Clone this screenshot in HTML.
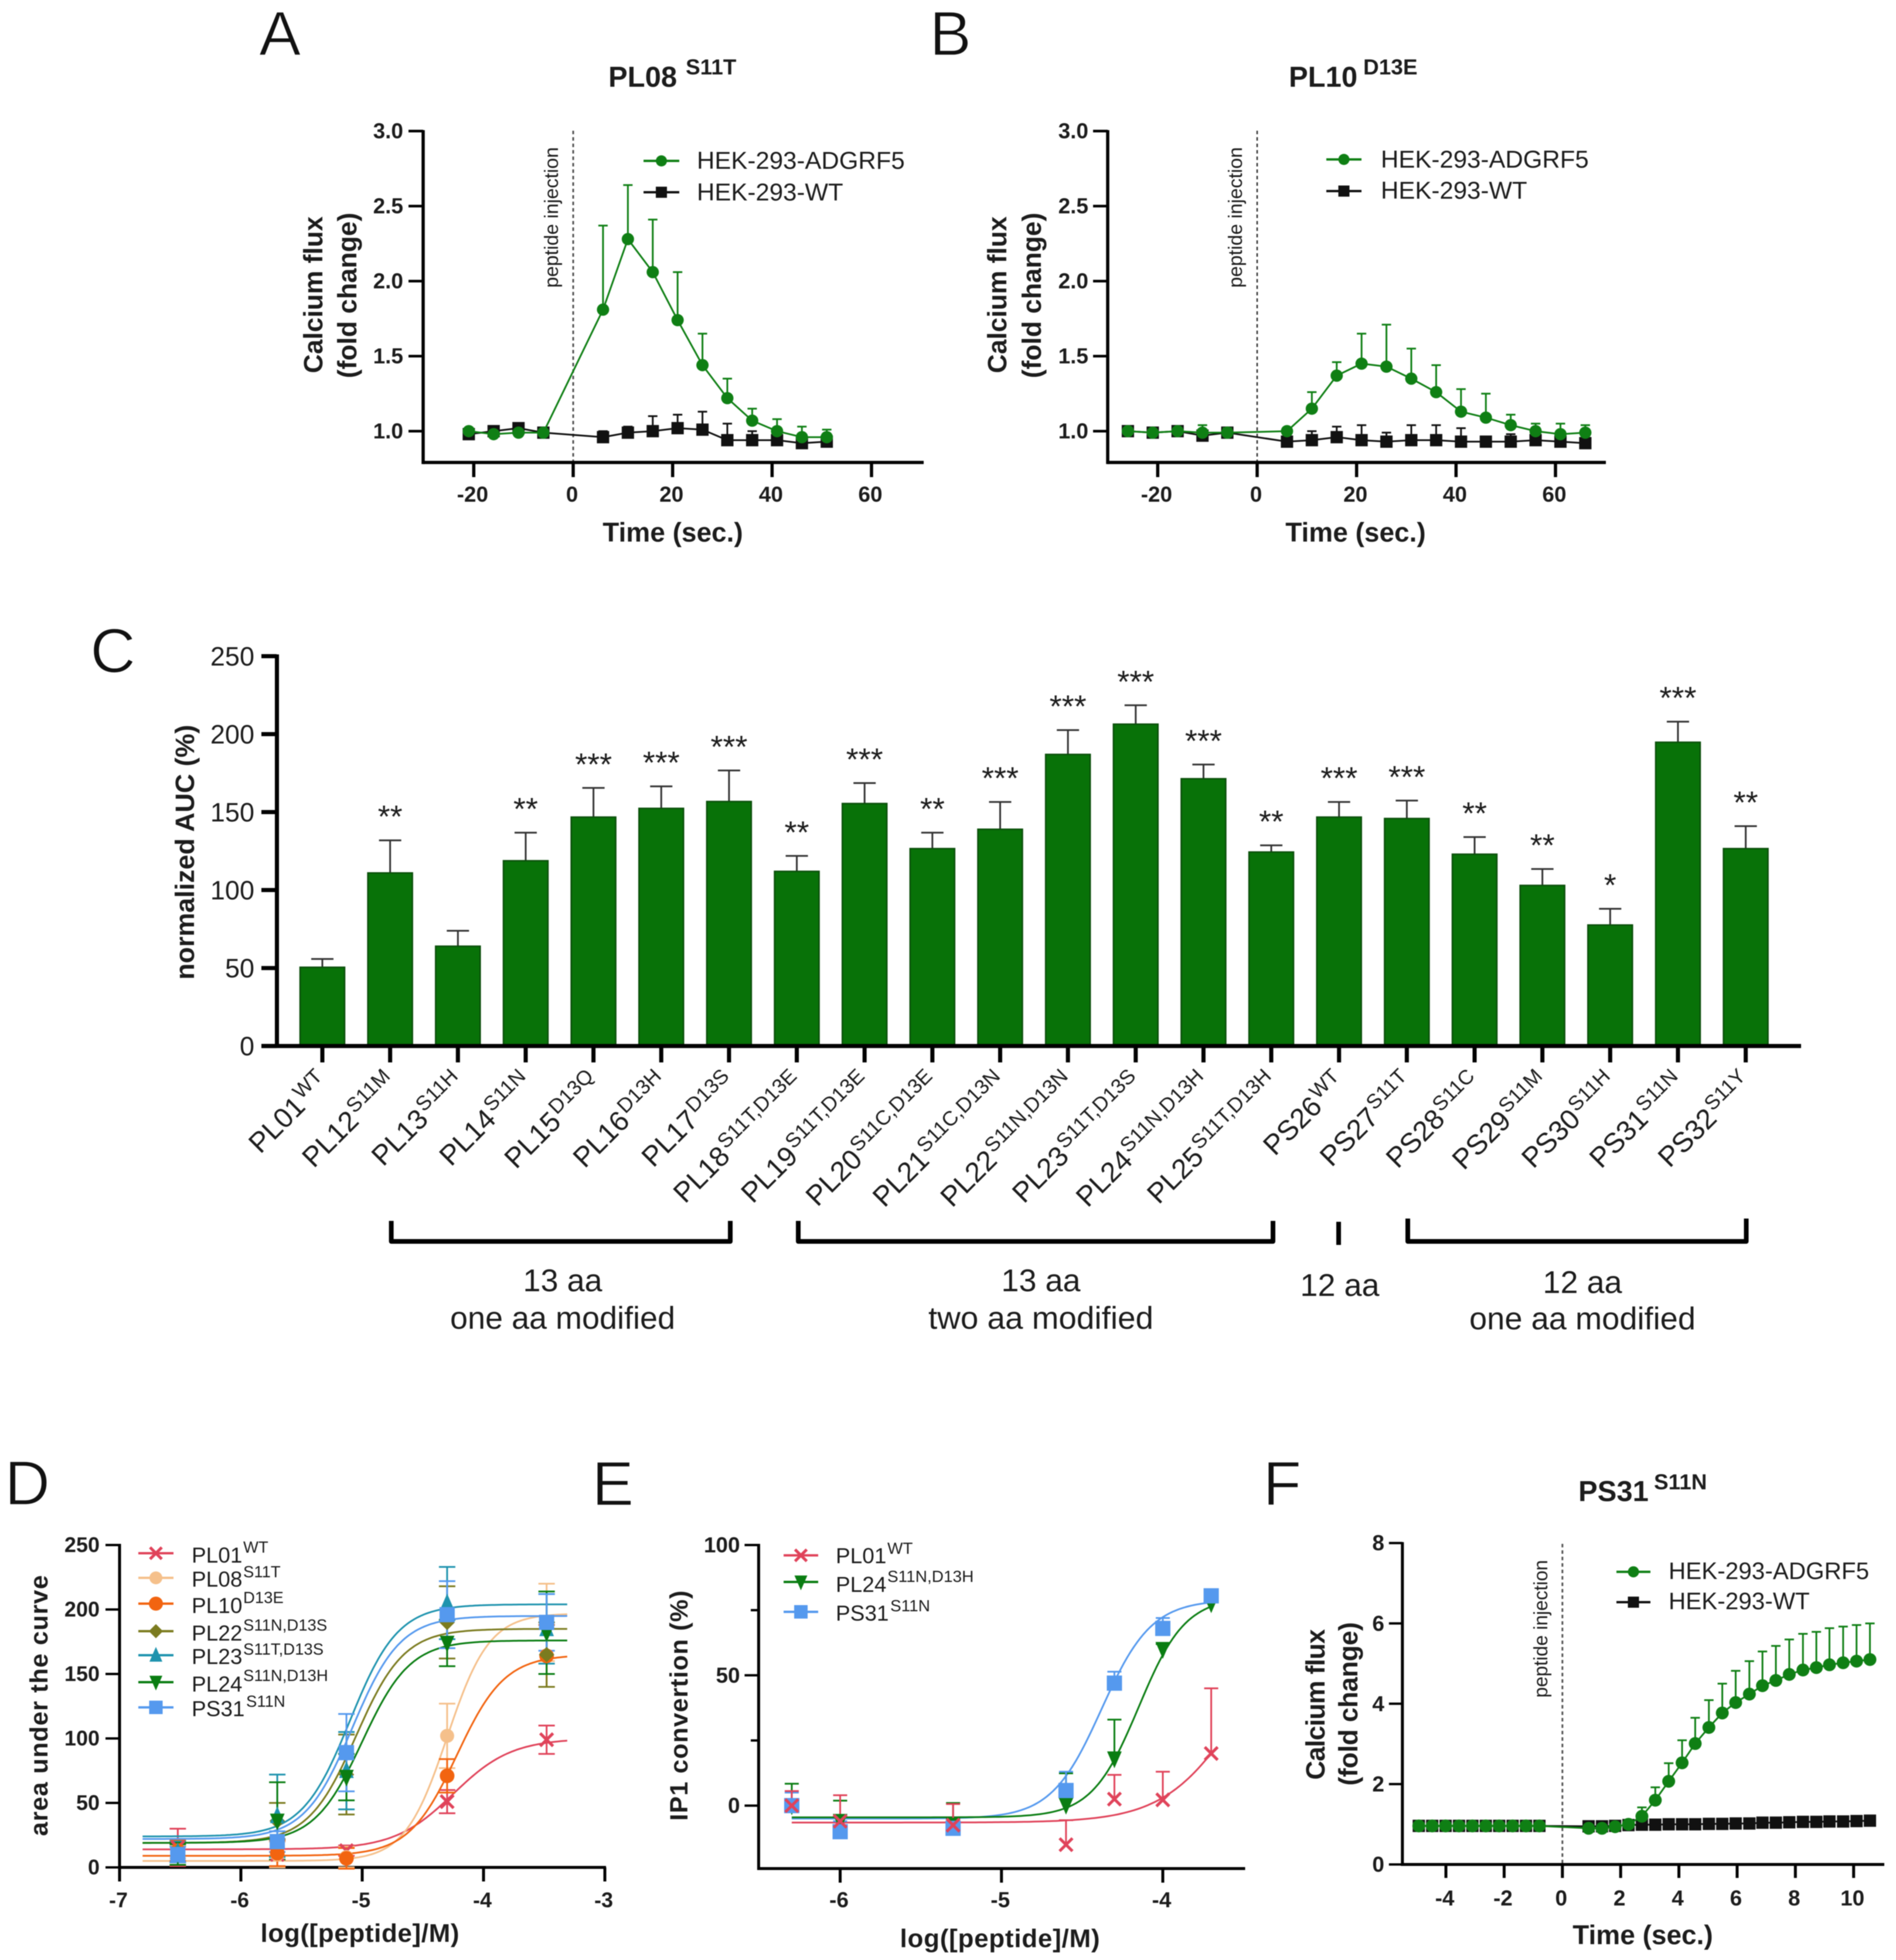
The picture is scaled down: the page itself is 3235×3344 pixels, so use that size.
<!DOCTYPE html>
<html lang="en">
<head>
<meta charset="utf-8">
<title>Calcium flux and AUC panels</title>
<style>
html,body{margin:0;padding:0;background:#fff;width:3235px;height:3344px;overflow:hidden}
svg{display:block;filter:blur(0.8px)}
text{font-family:"Liberation Sans",sans-serif;fill:#1c1c1c}
.b{font-weight:bold}
.letter{font-size:107px;stroke:#fff;stroke-width:1.5px;fill:#111}
.title{font-size:49px;font-weight:bold}
.tsup{font-size:37px;font-weight:bold}
.ytitle{font-size:45px;font-weight:bold;text-anchor:middle}
.xtitle{font-size:46px;font-weight:bold;text-anchor:middle}
.pep{font-size:33px;text-anchor:middle}
.grp{font-size:54px;text-anchor:middle}
</style>
</head>
<body>
<svg id="figure" width="3235" height="3344" viewBox="0 0 3235 3344">
  <rect x="0" y="0" width="3235" height="3344" fill="#fff"></rect>

  <text class="letter" x="442" y="94">A</text>
  <text class="letter" x="1586" y="94">B</text>
  <text class="letter" x="154" y="1147">C</text>
  <text class="letter" x="8" y="2567">D</text>
  <text class="letter" x="1010" y="2568">E</text>
  <text class="letter" x="2155" y="2568">F</text>

  <g id="panelA">
    <text class="title" x="1038" y="148">PL08</text>
    <text class="tsup" x="1170" y="127">S11T</text>
    <text class="ytitle" transform="rotate(-90 550 503)" x="550" y="503">Calcium flux</text>
    <text class="ytitle" transform="rotate(-90 608 504)" x="608" y="504">(fold change)</text>
    <text class="xtitle" x="1148" y="924">Time (sec.)</text>
    <text class="pep" transform="rotate(-90 952 371)" x="952" y="371" textLength="240" lengthAdjust="spacingAndGlyphs">peptide injection</text>
  </g>
  <g id="panelB">
    <text class="title" x="2199" y="148">PL10</text>
    <text class="tsup" x="2326" y="127">D13E</text>
    <text class="ytitle" transform="rotate(-90 1717 503)" x="1717" y="503">Calcium flux</text>
    <text class="ytitle" transform="rotate(-90 1776 504)" x="1776" y="504">(fold change)</text>
    <text class="xtitle" x="2313" y="924">Time (sec.)</text>
    <text class="pep" transform="rotate(-90 2119 371)" x="2119" y="371" textLength="240" lengthAdjust="spacingAndGlyphs">peptide injection</text>
  </g>
  <g id="panelC">
    <text class="ytitle" transform="rotate(-90 331 1454)" x="331" y="1454" textLength="435" lengthAdjust="spacingAndGlyphs">normalized AUC (%)</text>
    <text class="grp" x="960" y="2203">13 aa</text>
    <text class="grp" x="960" y="2267" textLength="384" lengthAdjust="spacingAndGlyphs">one aa modified</text>
    <text class="grp" x="1776" y="2203">13 aa</text>
    <text class="grp" x="1776" y="2267" textLength="384" lengthAdjust="spacingAndGlyphs">two aa modified</text>
    <text class="grp" x="2286" y="2211">12 aa</text>
    <text class="grp" x="2700" y="2206">12 aa</text>
    <text class="grp" x="2700" y="2268" textLength="386" lengthAdjust="spacingAndGlyphs">one aa modified</text>
  </g>
  <g id="panelD">
    <text class="ytitle" transform="rotate(-90 81 2910)" x="81" y="2910" textLength="445" lengthAdjust="spacing" style="font-size:43px">area under the curve</text>
    <text class="xtitle" x="614" y="3313" textLength="339" lengthAdjust="spacing" style="font-size:44px">log([peptide]/M)</text>
  </g>
  <g id="panelE">
    <text class="ytitle" transform="rotate(-90 1173 2910)" x="1173" y="2910" textLength="393" lengthAdjust="spacing" style="font-size:43px">IP1 convertion (%)</text>
    <text class="xtitle" x="1706" y="3322" textLength="341" lengthAdjust="spacing" style="font-size:44px">log([peptide]/M)</text>
  </g>
  <g id="panelF">
    <text class="title" x="2693" y="2561">PS31</text>
    <text class="tsup" x="2822" y="2541">S11N</text>
    <text class="ytitle" transform="rotate(-90 2260 2908)" x="2260" y="2908" textLength="257" lengthAdjust="spacing">Calcium flux</text>
    <text class="ytitle" transform="rotate(-90 2316 2907)" x="2316" y="2907" textLength="279" lengthAdjust="spacing">(fold change)</text>
    <text class="xtitle" x="2803" y="3317">Time (sec.)</text>
    <text class="pep" transform="rotate(-90 2640 2779)" x="2640" y="2779" textLength="235" lengthAdjust="spacingAndGlyphs">peptide injection</text>
  </g>
</svg>

<script>
/* ---------- Panel A data ---------- */
const aXTicks = [-20, 0, 20, 40, 60];
const aYTicks = [1.0, 1.5, 2.0, 2.5, 3.0];
const aTimes = [-21, -16, -11, -6, 6, 11, 16, 21, 26, 31, 36, 41, 46, 51];
const aAdgrf5 = [1.00, 0.98, 0.99, 0.99, 1.81, 2.28, 2.06, 1.74, 1.44, 1.22, 1.07, 1.00, 0.96, 0.96];
const aAdgrf5Upper = [1.01, 0.99, 1.01, 1.00, 2.37, 2.64, 2.41, 2.06, 1.65, 1.35, 1.15, 1.08, 1.03, 1.01];
const aWt = [0.98, 1.00, 1.02, 0.99, 0.96, 0.99, 1.00, 1.02, 1.01, 0.94, 0.94, 0.94, 0.92, 0.93];
const aWtUpper = [1.02, 1.02, 1.05, 1.00, 1.00, 1.03, 1.10, 1.11, 1.13, 1.05, 1.00, 0.98, 0.96, 0.97];

/* ---------- Panel B data ---------- */
const bXTicks = [-20, 0, 20, 40, 60];
const bYTicks = [1.0, 1.5, 2.0, 2.5, 3.0];
const bTimes = [-26, -21, -16, -11, -6, 6, 11, 16, 21, 26, 31, 36, 41, 46, 51, 56, 61, 66];
const bAdgrf5 = [1.00, 0.99, 1.00, 0.99, 0.99, 1.00, 1.15, 1.37, 1.45, 1.43, 1.35, 1.26, 1.13, 1.09, 1.04, 1.00, 0.98, 0.99];
const bAdgrf5Upper = [1.00, 1.00, 1.01, 1.04, 1.02, 1.00, 1.26, 1.46, 1.65, 1.71, 1.55, 1.44, 1.28, 1.25, 1.11, 1.05, 1.05, 1.04];
const bWt = [1.00, 0.99, 1.00, 0.97, 0.99, 0.93, 0.94, 0.96, 0.94, 0.93, 0.94, 0.94, 0.93, 0.93, 0.93, 0.94, 0.93, 0.92];
const bWtUpper = [1.00, 1.00, 1.02, 1.00, 1.00, 0.93, 1.00, 1.03, 1.04, 0.99, 1.04, 1.04, 1.02, 0.95, 0.98, 0.96, 0.96, 0.94];

/* ---------- Panel C data ---------- */
const cYTicks = [0, 50, 100, 150, 200, 250];
const cPeptides = ['PL01','PL12','PL13','PL14','PL15','PL16','PL17','PL18','PL19','PL20','PL21','PL22','PL23','PL24','PL25','PS26','PS27','PS28','PS29','PS30','PS31','PS32'];
const cVariants = ['WT','S11M','S11H','S11N','D13Q','D13H','D13S','S11T,D13E','S11T,D13E','S11C,D13E','S11C,D13N','S11N,D13N','S11T,D13S','S11N,D13H','S11T,D13H','WT','S11T','S11C','S11M','S11H','S11N','S11Y'];
const cAuc = [50.5, 111, 64, 118.8, 146.8, 152.4, 156.8, 112, 155.5, 126.6, 139, 187, 206.4, 171.4, 124.4, 146.8, 145.9, 123, 103, 77.6, 194.8, 126.6];
const cAucUpper = [55.8, 131.9, 73.9, 136.8, 165.5, 166.5, 176.7, 121.9, 168.6, 136.8, 156.5, 202.6, 218.5, 180.5, 128.7, 156.5, 157.4, 134, 113.5, 88, 208, 141];
const cStars = ['','**','','**','***','***','***','**','***','**','***','***','***','***','**','***','***','**','**','*','***','**'];

/* ---------- Panel D data ---------- */
const dXTicks = [-7, -6, -5, -4, -3];
const dYTicks = [0, 50, 100, 150, 200, 250];
const dLogConc = [-6.52, -5.70, -5.13, -4.30, -3.48];
const dPL01 = [15.5, 10, 13, 51, 99];
const dPL01Err = [14.5, 10, 4, 9, 11];
const dPL08 = [12, 10, 8, 102, 190];
const dPL08Err = [5, 10, 8, 25, 30];
const dPL10 = [13, 11, 7, 71, 164];
const dPL10Err = [8, 10, 8, 13, 24];
const dPL22 = [12, 36, 72, 190, 165];
const dPL22Err = [8, 14, 31, 28, 25];
const dPL23 = [12, 40, 75, 205, 185];
const dPL23Err = [8, 32, 30, 28, 27];
const dPL24 = [10, 36, 70, 174, 182];
const dPL24Err = [8, 30, 18, 18, 32];
const dPS31 = [10, 20, 89, 196, 190];
const dPS31Err = [6, 8, 30, 26, 22];
/* fitted sigmoid parameters, in legend order */
const dBottoms = [14, 5, 9, 19, 24, 19, 22];
const dTops = [100, 197, 165, 185, 204, 176, 195];
const dLogEC50s = [-4.25, -4.30, -4.22, -5.05, -5.10, -5.00, -5.08];
const dHills = [1.8, 2.5, 2.2, 2.2, 2.2, 2.2, 2.2];

/* ---------- Panel E data ---------- */
const eXTicks = [-6, -5, -4];
const eYTicks = [0, 50, 100];
const eYMinorTicks = [25, 75];
const eLogConc = [-6.3, -6.0, -5.3, -4.6, -4.3, -4.0, -3.7];
const ePL01 = [0, -6, -7.5, -15, 2.5, 2.2, 20];
const ePL01Upper = [5.6, 4, 0.6, -5.6, 11.8, 13, 45];
const ePL24 = [0, -6, -7.5, 0.2, 18, 60, 77.5];
const ePL24Upper = [8.4, 1.9, 1, 12.4, 33, 62, 78];
const ePS31 = [0, -10, -8.7, 5.8, 47, 68, 80.5];
const ePS31Upper = [5, -6, -7, 13, 51.4, 72, 83];
/* fitted sigmoid parameters: PL01, PL24, PS31 */
const eBottoms = [-6.5, -4.5, -5];
const eTops = [80, 80, 79];
const eLogEC50s = [-3.51, -4.15, -4.38];
const eHills = [1.85, 3.0, 2.8];

/* ---------- Panel F data ---------- */
const fXTicks = [-4, -2, 0, 2, 4, 6, 8, 10];
const fYTicks = [0, 2, 4, 6, 8];
const fTimes = [-4.93,-4.47,-4.01,-3.55,-3.09,-2.63,-2.17,-1.71,-1.25,-0.79,0.9,1.36,1.81,2.27,2.73,3.19,3.65,4.11,4.56,5.03,5.49,5.95,6.42,6.87,7.33,7.79,8.26,8.72,9.17,9.64,10.1,10.56];
const fAdgrf5 = [0.96,0.96,0.96,0.96,0.96,0.96,0.96,0.96,0.96,0.96,0.90,0.90,0.94,1.00,1.20,1.60,2.07,2.53,3.01,3.41,3.77,4.03,4.24,4.45,4.58,4.73,4.84,4.90,4.97,5.02,5.06,5.10];
const fAdgrf5Upper = [0.96,0.96,0.96,0.96,0.96,0.96,0.96,0.96,0.96,0.96,0.95,0.95,0.98,1.00,1.42,1.92,2.52,3.09,3.65,4.09,4.50,4.82,5.06,5.30,5.44,5.60,5.74,5.79,5.88,5.92,5.96,6.00];
const fWt = [0.96,0.96,0.96,0.96,0.96,0.96,0.96,0.96,0.96,0.96,0.95,0.95,0.96,0.98,0.99,0.99,1.00,1.00,1.00,1.01,1.01,1.02,1.02,1.04,1.04,1.05,1.06,1.06,1.07,1.07,1.08,1.09];

/* ---------- Colours ---------- */
const GREEN = '#0f7f14';
const BLACK = '#111111';
const D_RED = '#e0435a';
const D_PEACH = '#f5c08b';
const D_ORANGE = '#f26410';
const D_OLIVE = '#7b7b1f';
const D_TEAL = '#1e93ae';
const D_GREEN = '#0a7d12';
const D_BLUE = '#5599ee';

/* ---------- Helpers ---------- */
const root = document.getElementById('figure');
const NS = root.namespaceURI;

function linear(d0, d1, r0, r1) {
  return function (v) { return r0 + (v - d0) * (r1 - r0) / (d1 - d0); };
}
function make(tag, parent, attrs) {
  const e = document.createElementNS(NS, tag);
  for (const k in attrs) e.setAttribute(k, attrs[k]);
  parent.appendChild(e);
  return e;
}
function drawLine(parent, name, x1, y1, x2, y2, color, width, dash) {
  const e = make('line', parent, { x1: x1, y1: y1, x2: x2, y2: y2, stroke: color, 'stroke-width': width });
  if (dash) e.setAttribute('stroke-dasharray', dash);
  
  
  return e;
}
function drawPath(parent, name, d, fill, stroke, width) {
  const e = make('path', parent, { d: d, fill: fill, stroke: stroke, 'stroke-width': width, 'stroke-linejoin': 'round' });
  
  
  return e;
}
function drawRect(parent, name, x, y, w, h, fill, stroke, width) {
  const e = make('rect', parent, { x: x, y: y, width: w, height: h, fill: fill, stroke: stroke, 'stroke-width': width });
  
  
  return e;
}
function drawCircle(parent, name, x, y, r, fill) {
  const e = make('circle', parent, { cx: x, cy: y, r: r, fill: fill });
  
  
  return e;
}
function drawText(parent, name, str, x, y, size, weight, anchor) {
  const e = make('text', parent, { x: x, y: y, 'font-size': size, 'font-weight': weight, 'text-anchor': anchor });
  e.textContent = str;
  
  
  return e;
}
function drawMarker(parent, name, shape, x, y, r, color) {
  if (shape === 'circle') return drawCircle(parent, name, x, y, r, color);
  if (shape === 'square') return drawRect(parent, name, x - r, y - r, 2 * r, 2 * r, color, 'none', 0);
  let d = '';
  if (shape === 'diamond') d = 'M' + x + ' ' + (y - r * 1.1) + 'L' + (x + r * 1.1) + ' ' + y + 'L' + x + ' ' + (y + r * 1.1) + 'L' + (x - r * 1.1) + ' ' + y + 'Z';
  if (shape === 'up') d = 'M' + x + ' ' + (y - r * 1.3) + 'L' + (x + r) + ' ' + (y + r) + 'L' + (x - r) + ' ' + (y + r) + 'Z';
  if (shape === 'down') d = 'M' + x + ' ' + (y + r * 1.3) + 'L' + (x + r) + ' ' + (y - r) + 'L' + (x - r) + ' ' + (y - r) + 'Z';
  if (shape === 'cross') {
    d = 'M' + (x - r) + ' ' + (y - r) + 'L' + (x + r) + ' ' + (y + r) + 'M' + (x + r) + ' ' + (y - r) + 'L' + (x - r) + ' ' + (y + r);
    return drawPath(parent, name, d, 'none', color, 5);
  }
  return drawPath(parent, name, d, color, 'none', 0);
}
function drawAxes(parent, prefix, o) {
  drawLine(parent, prefix + '-y-axis', o.left, o.top, o.left, o.base + o.w / 2, '#000', o.w);
  drawLine(parent, prefix + '-x-axis', o.axisStart, o.base, o.right, o.base, '#000', o.w);
  o.xTicks.forEach(function (t) {
    drawLine(parent, prefix + '-x-tick', o.xs(t), o.base, o.xs(t), o.base + o.tickLen, '#000', o.w);
    drawText(parent, prefix + '-x-tick-label', o.xFmt(t), o.xs(t) - 2, o.xLabelY, o.size, o.weight, 'middle');
  });
  o.yTicks.forEach(function (t) {
    drawLine(parent, prefix + '-y-tick', o.left - o.tickLen, o.ys(t), o.left, o.ys(t), '#000', o.tickW);
    drawText(parent, prefix + '-y-tick-label', o.yFmt(t), o.yLabelX, o.ys(t) + o.size * 0.34, o.size, o.weight, 'end');
  });
}
function drawSeries(parent, prefix, times, vals, upper, color, shape, r, xs, ys, lineW) {
  let d = '';
  times.forEach(function (t, i) { d += (i ? 'L' : 'M') + xs(t) + ' ' + ys(vals[i]); });
  drawPath(parent, prefix + '-line', d, 'none', color, lineW);
  if (upper) {
    times.forEach(function (t, i) {
      const xp = xs(t);
      drawLine(parent, prefix + '-error-bar', xp, ys(vals[i]), xp, ys(upper[i]), color, 3);
      drawLine(parent, prefix + '-error-cap', xp - 8, ys(upper[i]), xp + 8, ys(upper[i]), color, 3);
    });
  }
  times.forEach(function (t, i) {
    drawMarker(parent, prefix + '-point', shape, xs(t), ys(vals[i]), r, color);
  });
}
function legendEntry(parent, name, label, sup, color, shape, x1, x2, rowY, baseY, textX, size, supX, supY, supSize, r) {
  drawLine(parent, name + '-line', x1, rowY, x2, rowY, color, 4);
  drawMarker(parent, name + '-marker', shape, (x1 + x2) / 2, rowY, r, color);
  drawText(parent, name + '-label', label, textX, baseY, size, 'normal', 'start');
  if (sup) drawText(parent, name + '-superscript', sup, supX, supY, supSize, 'normal', 'start');
}
function sigmoid(x, bottom, top, logEC50, hill) {
  return bottom + (top - bottom) / (1 + Math.pow(10, (logEC50 - x) * hill));
}
function drawFitCurve(parent, name, xs, ys, from, to, bottom, top, logEC50, hill, color, width) {
  let d = '';
  for (let x = from; x <= to + 1e-6; x += 0.02) {
    d += (d ? 'L' : 'M') + xs(x).toFixed(1) + ' ' + ys(sigmoid(x, bottom, top, logEC50, hill)).toFixed(1);
  }
  drawPath(parent, name, d, 'none', color, width);
}
const fmt1 = function (v) { return v.toFixed(1); };
const fmt0 = function (v) { return String(v); };

/* ---------- Panel A ---------- */
(function () {
  const g = document.getElementById('panelA');
  const xs = linear(0, 60, 978, 1487);
  const ys = linear(1, 3, 735.6, 223.6);
  drawLine(g, 'panel-a-peptide-injection-line', xs(0), 223, xs(0), 789, '#555', 3, '6 5');
  drawAxes(g, 'panel-a', { left: 722, top: 222, base: 789, right: 1576, axisStart: 722, w: 5.5, tickW: 4.5, tickLen: 25, xs: xs, ys: ys, xTicks: aXTicks, yTicks: aYTicks, xFmt: fmt0, yFmt: fmt1, size: 37, weight: 'bold', xLabelY: 856, yLabelX: 688 });
  drawSeries(g, 'panel-a-wt', aTimes, aWt, aWtUpper, BLACK, 'square', 10.5, xs, ys, 3);
  drawSeries(g, 'panel-a-adgrf5', aTimes, aAdgrf5, aAdgrf5Upper, GREEN, 'circle', 10.5, xs, ys, 3);
  legendEntry(g, 'panel-a-legend-adgrf5', 'HEK-293-ADGRF5', '', GREEN, 'circle', 1098, 1159, 274.5, 288, 1189, 42, 0, 0, 0, 9.5);
  legendEntry(g, 'panel-a-legend-wt', 'HEK-293-WT', '', BLACK, 'square', 1098, 1159, 328, 342, 1189, 42, 0, 0, 0, 9.5);
})();

/* ---------- Panel B ---------- */
(function () {
  const g = document.getElementById('panelB');
  const xs = linear(0, 60, 2145, 2654);
  const ys = linear(1, 3, 735.6, 223.6);
  drawLine(g, 'panel-b-peptide-injection-line', xs(0), 223, xs(0), 789, '#333', 2.5, '6 5');
  drawAxes(g, 'panel-b', { left: 1890, top: 222, base: 789, right: 2740, axisStart: 1890, w: 5.5, tickW: 4.5, tickLen: 25, xs: xs, ys: ys, xTicks: bXTicks, yTicks: bYTicks, xFmt: fmt0, yFmt: fmt1, size: 37, weight: 'bold', xLabelY: 856, yLabelX: 1857 });
  drawSeries(g, 'panel-b-wt', bTimes, bWt, bWtUpper, BLACK, 'square', 10.5, xs, ys, 3);
  drawSeries(g, 'panel-b-adgrf5', bTimes, bAdgrf5, bAdgrf5Upper, GREEN, 'circle', 10.5, xs, ys, 3);
  legendEntry(g, 'panel-b-legend-adgrf5', 'HEK-293-ADGRF5', '', GREEN, 'circle', 2263, 2323, 272, 286, 2356, 42, 0, 0, 0, 9.5);
  legendEntry(g, 'panel-b-legend-wt', 'HEK-293-WT', '', BLACK, 'square', 2263, 2323, 326, 339, 2356, 42, 0, 0, 0, 9.5);
})();

/* ---------- Panel C ---------- */
(function () {
  const g = document.getElementById('panelC');
  const xs = linear(0, cPeptides.length - 1, 550, 2978.6);
  const ys = linear(0, 250, 1784.6, 1119.5);
  const barW = 76;
  cAuc.forEach(function (v, i) {
    const xc = xs(i);
    drawLine(g, 'bar-error-stem-' + cPeptides[i].toLowerCase(), xc, ys(v), xc, ys(cAucUpper[i]), '#333', 3);
    drawLine(g, 'bar-error-cap-' + cPeptides[i].toLowerCase(), xc - 19, ys(cAucUpper[i]), xc + 19, ys(cAucUpper[i]), '#333', 3);
    drawRect(g, 'bar-' + cPeptides[i].toLowerCase(), xc - barW / 2, ys(v), barW, ys(0) - ys(v), '#087208', '#0b4f0b', 2.5);
    if (cStars[i]) {
      drawText(g, 'significance-stars-' + cPeptides[i].toLowerCase(), cStars[i], xc, ys(cAucUpper[i]) - 22, 54, 'normal', 'middle');
    }
    drawLine(g, 'x-tick-' + cPeptides[i].toLowerCase(), xc, ys(0), xc, ys(0) + 28, '#000', 7);
    const px = xc + 14;
    const py = 1850;
    const lab = make('text', g, { x: px, y: py, 'font-size': 48, 'text-anchor': 'end', transform: 'rotate(-45 ' + px + ' ' + py + ')' });
    
    
    const main = make('tspan', lab, {});
    main.textContent = cPeptides[i];
    
    
    const sup = make('tspan', lab, { 'font-size': 35, dy: -17, dx: 3 });
    sup.textContent = cVariants[i];
    
    
  });
  drawLine(g, 'panel-c-y-axis', 472.5, ys(250) - 3, 472.5, ys(0) + 3, '#000', 7);
  drawLine(g, 'panel-c-x-axis', 446, ys(0), 3073, ys(0), '#000', 7);
  cYTicks.forEach(function (t) {
    drawLine(g, 'panel-c-y-tick', 446, ys(t), 472, ys(t), '#000', 7);
    drawText(g, 'panel-c-y-tick-label', String(t), 434, ys(t) + 16, 45, 'normal', 'end');
  });
  drawPath(g, 'bracket-13aa-one-modified', 'M667.6 2083V2118H1246V2083', 'none', '#000', 8);
  drawPath(g, 'bracket-13aa-two-modified', 'M1362 2083V2118H2172V2083', 'none', '#000', 8);
  drawLine(g, 'bracket-12aa', 2284, 2084.5, 2284, 2124, '#000', 8);
  drawPath(g, 'bracket-12aa-one-modified', 'M2402 2079V2118H2979.5V2079', 'none', '#000', 8);
})();

/* ---------- Panel D ---------- */
(function () {
  const g = document.getElementById('panelD');
  const xs = linear(-7, -3, 204, 1032);
  const ys = linear(0, 250, 3186, 2636);
  drawAxes(g, 'panel-d', { left: 204, top: 2634, base: 3186, right: 1034, axisStart: 204, w: 5, tickW: 4, tickLen: 24, xs: xs, ys: ys, xTicks: dXTicks, yTicks: dYTicks, xFmt: fmt0, yFmt: fmt0, size: 36, weight: 'bold', xLabelY: 3254, yLabelX: 170 });
  const names = ['pl01', 'pl08', 'pl10', 'pl22', 'pl23', 'pl24', 'ps31'];
  const colors = [D_RED, D_PEACH, D_ORANGE, D_OLIVE, D_TEAL, D_GREEN, D_BLUE];
  const shapes = ['cross', 'circle', 'circle', 'diamond', 'up', 'down', 'square'];
  const radii = [11, 12, 12.5, 12, 12.5, 12.5, 13];
  const vals = [dPL01, dPL08, dPL10, dPL22, dPL23, dPL24, dPS31];
  const errs = [dPL01Err, dPL08Err, dPL10Err, dPL22Err, dPL23Err, dPL24Err, dPS31Err];
  names.forEach(function (n, s) {
    drawFitCurve(g, 'panel-d-fit-curve-' + n, xs, ys, -6.81, -3.31, dBottoms[s], dTops[s], dLogEC50s[s], dHills[s], colors[s], 3);
    dLogConc.forEach(function (c, i) {
      const xp = xs(c);
      const lo = ys(vals[s][i] - errs[s][i]);
      const hi = ys(vals[s][i] + errs[s][i]);
      drawLine(g, 'panel-d-error-bar-' + n, xp, lo, xp, hi, colors[s], 3);
      drawLine(g, 'panel-d-error-cap-' + n, xp - 14, lo, xp + 14, lo, colors[s], 3);
      drawLine(g, 'panel-d-error-cap-' + n, xp - 14, hi, xp + 14, hi, colors[s], 3);
    });
  });
  names.forEach(function (n, s) {
    dLogConc.forEach(function (c, i) {
      drawMarker(g, 'panel-d-point-' + n, shapes[s], xs(c), ys(vals[s][i]), radii[s], colors[s]);
    });
  });
  legendEntry(g, 'panel-d-legend-pl01', 'PL01', 'WT', D_RED, 'cross', 236, 296, 2650, 2666, 327, 37, 415, 2649, 27.5, 10);
  legendEntry(g, 'panel-d-legend-pl08', 'PL08', 'S11T', D_PEACH, 'circle', 236, 296, 2692, 2707, 327, 37, 415, 2691, 27.5, 11);
  legendEntry(g, 'panel-d-legend-pl10', 'PL10', 'D13E', D_ORANGE, 'circle', 236, 296, 2736, 2752, 327, 37, 415, 2735, 27.5, 12);
  legendEntry(g, 'panel-d-legend-pl22', 'PL22', 'S11N,D13S', D_OLIVE, 'diamond', 236, 296, 2783, 2799, 327, 37, 415, 2782, 27.5, 11);
  legendEntry(g, 'panel-d-legend-pl23', 'PL23', 'S11T,D13S', D_TEAL, 'up', 236, 296, 2824, 2839, 327, 37, 415, 2823, 27.5, 11);
  legendEntry(g, 'panel-d-legend-pl24', 'PL24', 'S11N,D13H', D_GREEN, 'down', 236, 296, 2870, 2886, 327, 37, 415, 2868, 27.5, 11);
  legendEntry(g, 'panel-d-legend-ps31', 'PS31', 'S11N', D_BLUE, 'square', 236, 296, 2913, 2928, 327, 37, 420, 2912, 27.5, 11.5);
})();

/* ---------- Panel E ---------- */
(function () {
  const g = document.getElementById('panelE');
  const xs = linear(-6, -4, 1433.5, 1984);
  const ys = linear(0, 100, 3080.6, 2636);
  drawAxes(g, 'panel-e', { left: 1294.4, top: 2634, base: 3188, right: 2124.5, axisStart: 1294.4, w: 5, tickW: 4, tickLen: 24, xs: xs, ys: ys, xTicks: eXTicks, yTicks: eYTicks, xFmt: fmt0, yFmt: fmt0, size: 37, weight: 'bold', xLabelY: 3254, yLabelX: 1262.6 });
  eYMinorTicks.forEach(function (t) {
    drawLine(g, 'panel-e-y-minor-tick', 1281, ys(t), 1294, ys(t), '#000', 4);
  });
  const names = ['pl01', 'pl24', 'ps31'];
  const colors = [D_RED, D_GREEN, D_BLUE];
  const shapes = ['cross', 'down', 'square'];
  const radii = [11, 12.5, 13];
  const vals = [ePL01, ePL24, ePS31];
  const uppers = [ePL01Upper, ePL24Upper, ePS31Upper];
  [2, 1, 0].forEach(function (s) {
    drawFitCurve(g, 'panel-e-fit-curve-' + names[s], xs, ys, -6.3, -3.7, eBottoms[s], eTops[s], eLogEC50s[s], eHills[s], colors[s], 3);
  });
  [1, 2, 0].forEach(function (s) {
    eLogConc.forEach(function (c, i) {
      const xp = xs(c);
      drawLine(g, 'panel-e-error-bar-' + names[s], xp, ys(vals[s][i]), xp, ys(uppers[s][i]), colors[s], 3);
      drawLine(g, 'panel-e-error-cap-' + names[s], xp - 12, ys(uppers[s][i]), xp + 12, ys(uppers[s][i]), colors[s], 3);
    });
  });
  [1, 2, 0].forEach(function (s) {
    eLogConc.forEach(function (c, i) {
      drawMarker(g, 'panel-e-point-' + names[s], shapes[s], xs(c), ys(vals[s][i]), radii[s], colors[s]);
    });
  });
  legendEntry(g, 'panel-e-legend-pl01', 'PL01', 'WT', D_RED, 'cross', 1337, 1396, 2653.6, 2667, 1426, 37, 1514, 2651, 28, 10);
  legendEntry(g, 'panel-e-legend-pl24', 'PL24', 'S11N,D13H', D_GREEN, 'down', 1337, 1396, 2699, 2716, 1426, 37, 1514, 2699, 28, 11);
  legendEntry(g, 'panel-e-legend-ps31', 'PS31', 'S11N', D_BLUE, 'square', 1337, 1396, 2750, 2765, 1426, 37, 1519, 2749, 28, 11.5);
})();

/* ---------- Panel F ---------- */
(function () {
  const g = document.getElementById('panelF');
  const xs = linear(0, 10, 2665.8, 3162.7);
  const ys = linear(0, 8, 3181, 2632.6);
  drawLine(g, 'panel-f-peptide-injection-line', xs(0), 2634, xs(0), 3181, '#555', 3, '6 5');
  drawAxes(g, 'panel-f', { left: 2392.8, top: 2631, base: 3181, right: 3215, axisStart: 2392.8, w: 5, tickW: 4, tickLen: 23, xs: xs, ys: ys, xTicks: fXTicks, yTicks: fYTicks, xFmt: fmt0, yFmt: fmt0, size: 37, weight: 'bold', xLabelY: 3251, yLabelX: 2362 });
  drawSeries(g, 'panel-f-wt', fTimes, fWt, null, BLACK, 'square', 10.5, xs, ys, 3);
  drawSeries(g, 'panel-f-adgrf5', fTimes, fAdgrf5, fAdgrf5Upper, GREEN, 'circle', 11, xs, ys, 3);
  legendEntry(g, 'panel-f-legend-adgrf5', 'HEK-293-ADGRF5', '', GREEN, 'circle', 2758, 2816, 2681.7, 2694, 2847, 40.5, 0, 0, 0, 9.5);
  legendEntry(g, 'panel-f-legend-wt', 'HEK-293-WT', '', BLACK, 'square', 2758, 2816, 2733.5, 2745.6, 2847, 40.5, 0, 0, 0, 9.5);
})();
</script>
</body>
</html>
